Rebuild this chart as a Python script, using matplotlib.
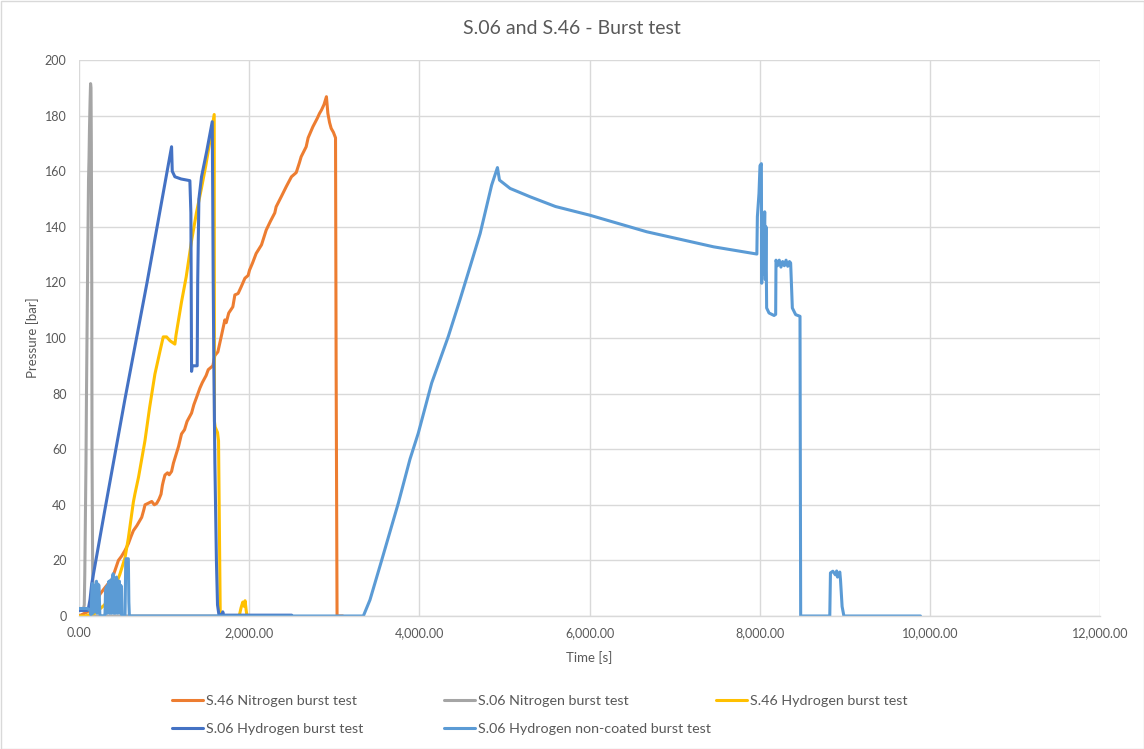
import matplotlib
matplotlib.use("Agg")
import matplotlib.pyplot as plt
from matplotlib.ticker import FuncFormatter, MultipleLocator
from matplotlib.patches import Rectangle

# ---- data: time [s] and pressure [bar] per test ----
n46_t = [0, 100, 180, 250, 300, 345, 380, 423, 463, 500, 541, 580, 610, 639, 680, 737, 760, 776,
         810, 855, 885, 913, 940, 964, 980, 992, 1010, 1040, 1060, 1088, 1110, 1140, 1170, 1205,
         1240, 1270, 1323, 1350, 1380, 1421, 1450, 1494, 1519, 1573, 1597, 1632, 1671, 1714, 1730,
         1760, 1808, 1832, 1870, 1906, 1950, 1988, 2004, 2040, 2082, 2145, 2200, 2250, 2301, 2317,
         2380, 2435, 2497, 2553, 2590, 2611, 2670, 2693, 2749, 2800, 2827, 2850, 2880, 2908, 2925,
         2945, 2964, 2990, 3015, 3022, 3025, 3033, 3100]
n46_p = [0, 1.5, 4, 8, 10, 11.7, 12.5, 16.4, 20, 21.5, 23.6, 26, 28.5, 30.7, 32.5, 35.5, 38, 40,
         40.5, 41.2, 40, 40.5, 42, 43.8, 47, 48.6, 50.7, 51.5, 50.8, 52, 55, 58, 61, 65.5,
         67, 70, 73, 76, 78.5, 82, 84, 86.5, 88.6, 90, 93.7, 95, 100.4, 106.5, 105.5,
         109, 111.2, 115.5, 116, 118.4, 121.5, 122.5, 124.4, 127, 130.4, 133.5, 138.8, 142, 145, 147.2,
         151, 154.4, 158, 159.5, 163, 165.2, 168.8, 172, 176, 179, 180.8, 182, 184, 186.8, 180.8,
         177.5, 175.4, 174, 172, 90, 66, 0, 0]

n06_t = [0, 50, 62, 68, 75, 82, 88, 94, 103, 112, 118, 123, 130, 136, 141, 145, 150, 153, 156,
         160, 165, 172, 2500]
n06_p = [2, 2, 4, 15, 35, 55, 80, 100, 130, 157, 165, 175, 185, 191.5, 190, 170, 120, 60, 42,
         20, 2, 0, 0]

h46_t = [0, 70, 188, 300, 423, 480, 541, 580, 639, 658, 700, 775, 830, 892, 950, 990, 1029, 1070,
         1127, 1140, 1205, 1260, 1323, 1380, 1440, 1490, 1538, 1589, 1592, 1600, 1628, 1640, 1660,
         1665, 1883, 1905, 1925, 1940, 1952, 1965, 1975, 2000]
h46_p = [0, 0, 1, 4, 10.5, 15, 21, 28, 41, 44, 50, 63, 75, 87, 95, 100.4, 100.4, 99,
         97.8, 101, 113, 122, 135, 145, 154, 162, 170.7, 180.4, 70, 68, 66, 63, 0.6,
         0, 0, 3, 5, 3.5, 5.5, 2, 0, 0]

h06_t = [0, 100, 110, 130, 149, 300, 540, 800, 1088, 1096, 1127, 1200, 1303, 1315, 1323, 1330,
         1389, 1395, 1409, 1440, 1500, 1566, 1572, 1577, 1585, 1597, 1615, 1628, 1644, 1680, 1690,
         1700, 2500]
h06_p = [2, 2, 2.6, 6, 11.5, 37.5, 78, 120, 168.8, 160, 158, 157.2, 156.6, 145, 88, 90,
         90, 120, 150, 158, 167, 177.8, 150, 122, 90, 55, 20, 4, 0.6, 0.5, 1.5,
         0.3, 0.3]

h06nc_t = [0, 100, 135, 141, 150, 157, 165, 172, 180, 188, 196, 205, 212, 222, 235, 245, 260, 300,
           306, 312, 322, 330, 340, 352, 360, 372, 382, 392, 402, 410, 420, 430, 440, 448, 456,
           465, 475, 485, 492, 500, 505, 541, 549, 553, 580, 586, 592, 3342, 3420, 3557, 3753,
           3890, 3988, 4145, 4341, 4478, 4600, 4715, 4850, 4918, 4942, 5067, 5302, 5600, 6000,
           6674, 7458, 7967, 7973, 7992, 8004, 8020, 8024, 8035, 8043, 8059, 8067, 8074, 8082,
           8110, 8169, 8188, 8192, 8210, 8230, 8250, 8270, 8290, 8310, 8330, 8350, 8364, 8384,
           8423, 8474, 8482, 8824, 8832, 8860, 8890, 8905, 8915, 8942, 8950, 8969, 8990, 9890]
h06nc_p = [2.7, 2.7, 2, 0.4, 8, 11.7, 1, 10, 11, 2, 11, 12.5, 1, 11.5, 11, 0.5, 0, 0,
           1, 9, 10.5, 1, 11, 12.5, 1, 12.9, 1, 13.5, 15.2, 1, 12, 1, 14, 13, 1,
           12, 12.5, 1, 11, 10, 0, 0, 19, 20.6, 20.6, 5, 0, 0, 5.8, 20, 40.6,
           56.4, 65.8, 83.8, 100.6, 113.8, 126, 137.6, 155, 161.3, 156.8, 153.8, 150.8, 147.3, 144.2,
           138.2, 132.8, 130.2, 143.6, 152, 162, 162.7, 119.7, 141, 123, 145.4, 121, 140, 110.8,
           109, 108.1, 108.5, 128, 126, 128, 125.5, 127.5, 126, 128, 125.8, 127.5, 127, 110.8,
           108.4, 107.8, 0, 0, 15.5, 16.1, 14.8, 16.2, 14, 15.8, 13, 3.4, 0, 0]

series = [
    ("S.46 Nitrogen burst test", n46_t, n46_p, "#ED7D31"),
    ("S.06 Nitrogen burst test", n06_t, n06_p, "#A5A5A5"),
    ("S.46 Hydrogen burst test", h46_t, h46_p, "#FFC000"),
    ("S.06 Hydrogen burst test", h06_t, h06_p, "#4472C4"),
    ("S.06 Hydrogen non-coated burst test", h06nc_t, h06nc_p, "#5B9BD5"),
]

x_ticks = [0, 2000, 4000, 6000, 8000, 10000, 12000]
title = "S.06 and S.46 - Burst test"
x_label = "Time [s]"
y_label = "Pressure [bar]"

# ---- figure ----
plt.rcParams["font.family"] = ["Lato", "DejaVu Sans"]
text_color = "#595959"
grid_color = "#D9D9D9"

W, H = 1144, 749
fig = plt.figure(figsize=(W / 100, H / 100), dpi=100)
fig.patch.set_facecolor("white")

left, right, top, bottom = 79, 1100, 60, 616
ax = fig.add_axes([left / W, 1 - bottom / H, (right - left) / W, (bottom - top) / H])

handles = {}
for name, t, p, color in series:
    (ln,) = ax.plot(t, p, color=color, lw=2.2, solid_joinstyle="round",
                    solid_capstyle="round", label=name)
    handles[name] = ln

ax.set_xlim(0, 12000)
ax.set_ylim(0, 200)
ax.set_xticks(x_ticks)
ax.xaxis.set_major_formatter(FuncFormatter(lambda v, _: f"{v:,.2f}"))
ax.yaxis.set_major_locator(MultipleLocator(20))
ax.grid(True, color=grid_color, lw=1.0)
ax.set_axisbelow(True)
for s in ("top", "right", "left"):
    ax.spines[s].set_visible(False)
ax.spines["bottom"].set_color(grid_color)
ax.spines["bottom"].set_linewidth(1.0)
ax.tick_params(axis="both", length=0, labelsize=9, labelcolor=text_color)
ax.tick_params(axis="y", pad=9)
ax.tick_params(axis="x", pad=8)

fig.text(572 / W, 1 - 28 / H, title, ha="center", va="center", fontsize=14, color=text_color)
fig.text(589 / W, 1 - 658 / H, x_label, ha="center", va="center", fontsize=9.5, color=text_color)
fig.text(33 / W, 1 - 338 / H, y_label, ha="center", va="center", rotation=90,
         fontsize=9.5, color=text_color)

# legend: three equal-width columns, filled row by row
row_y = [701, 729]
legend_cols = [
    (172, ["S.46 Nitrogen burst test", "S.06 Hydrogen burst test"]),
    (444, ["S.06 Nitrogen burst test", "S.06 Hydrogen non-coated burst test"]),
    (716, ["S.46 Hydrogen burst test"]),
]
for x0, names in legend_cols:
    for r, n in enumerate(names):
        fig.legend([handles[n]], [n], loc="center left",
                   bbox_to_anchor=(x0 / W, 1 - row_y[r] / H), frameon=False, fontsize=10.3,
                   borderpad=0, borderaxespad=0, handlelength=2.15, handletextpad=0.2,
                   labelcolor=text_color)

fig.patches.append(Rectangle((0.5 / W, 0.5 / H), 1 - 1 / W, 1 - 1 / H, transform=fig.transFigure,
                             fill=False, edgecolor="#D9D9D9", lw=1.0))

fig.savefig("out.png", dpi=100, facecolor="white")
